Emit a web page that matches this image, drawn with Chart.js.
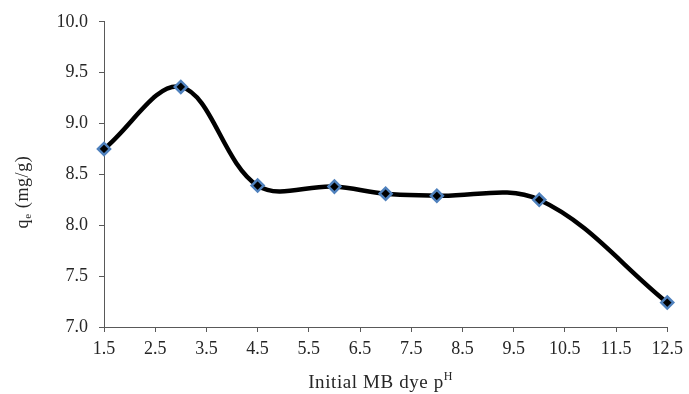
<!DOCTYPE html>
<html>
<head>
<meta charset="utf-8">
<script src="https://cdn.jsdelivr.net/npm/chart.js@4.4.0/dist/chart.umd.min.js"></script>
<style>
html,body{margin:0;padding:0;background:#fff;}
#wrap{width:689px;height:394px;position:relative;}
</style>
</head>
<body>
<div id="wrap"><canvas id="c" width="689" height="394"></canvas></div>
<script>
const phValues = [1.5, 3, 4.5, 6, 7, 8, 10, 12.5];
const qeValues = [8.75, 9.36, 8.39, 8.38, 8.31, 8.29, 8.25, 7.24];
const xTickValues = [1.5, 2.5, 3.5, 4.5, 5.5, 6.5, 7.5, 8.5, 9.5, 10.5, 11.5, 12.5];
const yTickValues = [7.0, 7.5, 8.0, 8.5, 9.0, 9.5, 10.0];
const xTitle = ['Initial MB dye p', 'H'];
const yTitle = ['q', 'e', ' (mg/g)'];

const FONT = '"Liberation Serif", "Times New Roman", serif';
const TXT = '#262626';
const AX = '#595959';

const titlePlugin = {
  id: 'titles',
  afterDraw(chart) {
    const ctx = chart.ctx;
    const a = chart.chartArea;
    ctx.save();
    ctx.fillStyle = TXT;
    ctx.textBaseline = 'alphabetic';
    try { ctx.letterSpacing = '0.6px'; } catch (e) {}
    // x title
    ctx.font = '19px ' + FONT;
    const w1 = ctx.measureText(xTitle[0]).width;
    ctx.font = '12px ' + FONT;
    const w2 = ctx.measureText(xTitle[1]).width;
    let x0 = (a.left + a.right) / 2 - 5 - (w1 + w2) / 2;
    const yb = 388;
    ctx.font = '19px ' + FONT;
    ctx.fillText(xTitle[0], x0, yb);
    ctx.font = '12px ' + FONT;
    ctx.fillText(xTitle[1], x0 + w1, yb - 8);
    // y title rotated
    ctx.translate(28, 192);
    ctx.rotate(-Math.PI / 2);
    ctx.font = '18px ' + FONT;
    const q1 = ctx.measureText(yTitle[0]).width;
    const q3 = ctx.measureText(yTitle[2]).width;
    ctx.font = '11px ' + FONT;
    const q2 = ctx.measureText(yTitle[1]).width;
    let s = -(q1 + q2 + q3) / 2;
    ctx.font = '18px ' + FONT;
    ctx.fillText(yTitle[0], s, 0);
    ctx.font = '11px ' + FONT;
    ctx.fillText(yTitle[1], s + q1, 3);
    ctx.font = '18px ' + FONT;
    ctx.fillText(yTitle[2], s + q1 + q2, 0);
    ctx.restore();
  }
};

new Chart(document.getElementById('c'), {
  type: 'line',
  data: {
    datasets: [{
      data: phValues.map((x, i) => ({x: x, y: qeValues[i]})),
      borderColor: '#000000',
      borderWidth: 4.5,
      tension: 0.36,
      fill: false,
      pointStyle: 'rectRot',
      pointRadius: 6,
      pointBackgroundColor: '#000000',
      pointBorderColor: '#4f81bd',
      pointBorderWidth: 2.5,
      clip: false
    }]
  },
  options: {
    responsive: false,
    animation: false,
    events: [],
    layout: {padding: {left: 0, right: 15, top: 20, bottom: 0}},
    plugins: {legend: {display: false}, tooltip: {enabled: false}},
    scales: {
      x: {
        type: 'linear',
        min: 1.5, max: 12.5,
        afterBuildTicks(scale) { scale.ticks = xTickValues.map(v => ({value: v})); },
        afterFit(scale) { scale.height = 67; },
        grid: {display: true, drawOnChartArea: false, drawTicks: true, tickLength: 5, color: AX},
        border: {display: true, color: AX, width: 1},
        ticks: {
          color: TXT, font: {family: FONT, size: 18}, padding: 6, maxRotation: 0, autoSkip: false,
          callback: v => Number(v).toFixed(1)
        }
      },
      y: {
        type: 'linear',
        min: 7, max: 10,
        afterBuildTicks(scale) { scale.ticks = yTickValues.map(v => ({value: v})); },
        afterFit(scale) { scale.width = 104; },
        grid: {display: true, drawOnChartArea: false, drawTicks: true, tickLength: 5, color: AX},
        border: {display: true, color: AX, width: 1},
        ticks: {
          color: TXT, font: {family: FONT, size: 18}, padding: 11,
          callback: v => Number(v).toFixed(1)
        }
      }
    }
  },
  plugins: [titlePlugin]
});
</script>
</body>
</html>
